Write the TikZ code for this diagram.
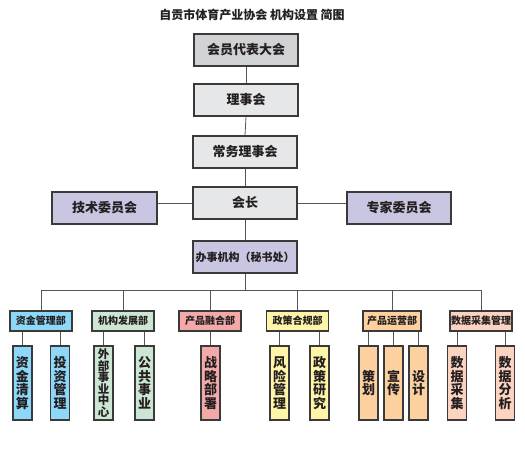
\documentclass[tikz,border=0pt]{standalone}
\usepackage{fontspec}
\usepackage{xcolor}
\usepackage{tikz}
\usetikzlibrary{positioning,calc}
\newfontfamily\cjk{Noto Sans CJK SC}

\definecolor{inkc}{HTML}{231F20}
\definecolor{edgec}{HTML}{3A3A3A}
\definecolor{linec}{HTML}{555555}
\definecolor{topgray}{HTML}{D1D2D4}
\definecolor{lightgray}{HTML}{E6E7E8}
\definecolor{lavender}{HTML}{C9C6E2}
\definecolor{skyblue}{HTML}{8DD8F8}
\definecolor{mintgreen}{HTML}{CDE6D3}
\definecolor{rosepink}{HTML}{F4A9A9}
\definecolor{paleyellow}{HTML}{FFF5A8}
\definecolor{peach}{HTML}{FDD09F}
\definecolor{salmon}{HTML}{FCD3C1}

\begin{document}
\begin{tikzpicture}[
    x=1pt, y=-1pt,
    every node/.style={text=inkc, font=\cjk\bfseries},
    topbox/.style={draw=edgec, line width=1.2pt, minimum width=104pt, minimum height=32pt, inner sep=0pt, font=\cjk\bfseries\fontsize{13}{15}\selectfont},
    deptbox/.style={draw=edgec, line width=1.1pt, minimum width=62pt, minimum height=20pt, inner sep=0pt, font=\cjk\bfseries\fontsize{10}{11}\selectfont},
    unitbox/.style={draw=edgec, line width=1.1pt, minimum width=19pt, minimum height=74pt, inner sep=0pt, align=center, font=\cjk\bfseries\fontsize{13}{13.5}\selectfont},
    link/.style={draw=linec, line width=0.8pt}
]
  \useasboundingbox (0,0) rectangle (525,449);

  \node[font=\cjk\bfseries\fontsize{12}{14}\selectfont] (title) at (252, 15) {自贡市体育产业协会 机构设置 简图};

  % upper levels
  \node[topbox, fill=topgray]   (dahui)  at (246, 50)  {会员代表大会};
  \node[topbox, fill=lightgray] (lishi)  at (246, 100) {理事会};
  \node[topbox, fill=lightgray] (changw) at (245, 152) {常务理事会};
  \node[topbox, fill=lightgray] (huiz)   at (245, 203) {会长};
  \node[topbox, fill=lavender, minimum width=105pt] (jishu)  at (104.5, 208) {技术委员会};
  \node[topbox, fill=lavender]  (zhuanj) at (399, 208) {专家委员会};
  \node[topbox, fill=lavender, font=\cjk\bfseries\fontsize{11}{13}\selectfont] (banshi) at (245, 257) {办事机构（秘书处）};

  \draw[link] (dahui.south) -- (lishi.north);
  \draw[link] (lishi.south) -- (changw.north);
  \draw[link] (changw.south) -- (huiz.north);
  \draw[link] (huiz.south) -- (banshi.north);
  \draw[link] (huiz.west) -- (huiz.west -| jishu.east);
  \draw[link] (huiz.east) -- (huiz.east -| zhuanj.west);

  % departments
  \node[deptbox, fill=skyblue]    (zijin)  at (41, 321)    {资金管理部};
  \node[deptbox, fill=mintgreen]  (jigou)  at (123, 321)   {机构发展部};
  \node[deptbox, fill=rosepink]   (ronghe) at (210, 321)   {产品融合部};
  \node[deptbox, fill=paleyellow] (zhengc) at (297.5, 321) {政策合规部};
  \node[deptbox, fill=peach, minimum width=58pt] (yunying) at (392, 321) {产品运营部};
  \node[deptbox, fill=salmon]     (shuju)  at (481, 321)   {数据采集管理};

  \coordinate (bus) at (0, 290);
  \draw[link] (banshi.south) -- (banshi.south |- bus);
  \draw[link] (zijin.north) -- (zijin.north |- bus) -- (shuju.north |- bus) -- (shuju.north);
  \foreach \d in {jigou, ronghe, zhengc, yunying}
    \draw[link] (\d.north) -- (\d.north |- bus);

  % units
  \node[unitbox, fill=skyblue]    (qingsuan) at (22.5, 383)  {资\\金\\清\\算};
  \node[unitbox, fill=skyblue]    (touzi)    at (60, 383)    {投\\资\\管\\理};
  \node[unitbox, fill=mintgreen, font=\cjk\bfseries\fontsize{11.5}{11.6}\selectfont] (waibu) at (103.5, 383) {外\\部\\事\\业\\中\\心};
  \node[unitbox, fill=mintgreen]  (gonggong) at (144.5, 383) {公\\共\\事\\业};
  \node[unitbox, fill=rosepink]   (zhanlue)  at (210.5, 383) {战\\略\\部\\署};
  \node[unitbox, fill=paleyellow] (fengxian) at (279.5, 383) {风\\险\\管\\理};
  \node[unitbox, fill=paleyellow] (yanjiu)   at (319.5, 383) {政\\策\\研\\究};
  \node[unitbox, fill=peach]      (cehua)    at (368.5, 383) {策\\划};
  \node[unitbox, fill=peach]      (xuanc)    at (393.5, 383) {宣\\传};
  \node[unitbox, fill=peach]      (sheji)    at (418.5, 383) {设\\计};
  \node[unitbox, fill=salmon]     (caiji)    at (457, 383)   {数\\据\\采\\集};
  \node[unitbox, fill=salmon]     (fenxi)    at (505, 383)   {数\\据\\分\\析};

  \draw[link] (qingsuan.north) -- (qingsuan.north |- zijin.south);
  \draw[link] (touzi.north) -- (touzi.north |- zijin.south);
  \draw[link] (waibu.north) -- (waibu.north |- jigou.south);
  \draw[link] (gonggong.north) -- (gonggong.north |- jigou.south);
  \draw[link] (zhanlue.north) -- (zhanlue.north |- ronghe.south);
  \draw[link] (fengxian.north) -- (fengxian.north |- zhengc.south);
  \draw[link] (yanjiu.north) -- (yanjiu.north |- zhengc.south);
  \draw[link] (cehua.north) -- (cehua.north |- yunying.south);
  \draw[link] (xuanc.north) -- (xuanc.north |- yunying.south);
  \draw[link] (sheji.north) -- (sheji.north |- yunying.south);
  \draw[link] (caiji.north) -- (caiji.north |- shuju.south);
  \draw[link] (fenxi.north) -- (fenxi.north |- shuju.south);
\end{tikzpicture}
\end{document}
